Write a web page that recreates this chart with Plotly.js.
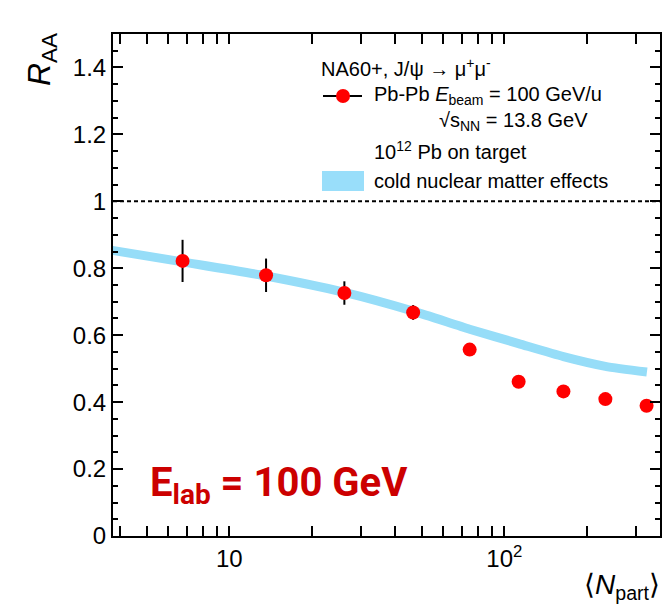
<!DOCTYPE html>
<html>
<head>
<meta charset="utf-8">
<script src="https://cdn.plot.ly/plotly-3.0.1.min.js"></script>
<style>html,body{margin:0;padding:0;background:#fff;}#plot{width:662px;height:609px;}</style>
</head>
<body>
<div id="plot"></div>
<script>
// ---- data ----
const nPart      = [6.76, 13.6, 26.2, 46.6, 74.8, 112.7, 164, 233, 329];
const raa        = [0.822, 0.779, 0.726, 0.668, 0.557, 0.461, 0.432, 0.409, 0.389];
const raaErr     = [0.063, 0.050, 0.035, 0.022, 0.018, 0.010, 0.010, 0.010, 0.010];
const cnmX       = [3.6, 6.76, 13.6, 26.2, 46.6, 74.8, 112.7, 164, 233, 330];
const cnmY       = [0.856, 0.819, 0.777, 0.728, 0.672, 0.618, 0.575, 0.536, 0.507, 0.490];
const refLevel   = 1;
const xMajorVals = [10, 100];
const xMajorText = ['10', '10<sup>2</sup>'];

// all x tick positions (decades + 2..9 multiples); only the decades get a label
const xTickVals = [], xTickText = [];
[1, 10, 100].forEach(d => {
  for (let k = 1; k <= 9; k++) {
    const v = k * d;
    const i = xMajorVals.indexOf(v);
    if (v < 4 || v > 360) continue;
    xTickVals.push(v);
    xTickText.push(i >= 0 ? xMajorText[i] : '');
  }
});

const FONT = 'Liberation Sans, Arial, sans-serif';
const X_RANGE = [0.577, 2.566];
const Y_RANGE = [0, 1.5];

const traces = [
  {
    x: cnmX, y: cnmY, type: 'scatter', mode: 'lines', line: {color: 'rgb(150,221,248)', width: 9, shape: 'spline', smoothing: 0.6},
    hoverinfo: 'skip', showlegend: false
  },
  {
    x: nPart, y: raa, type: 'scatter', mode: 'markers',
    marker: {color: 'rgb(255,0,0)', size: 14},
    error_y: {type: 'data', array: raaErr, visible: true, color: '#000', thickness: 2, width: 0},
    showlegend: false
  }
];

const layout = {
  width: 662, height: 609,
  margin: {l: 113, r: 2, t: 34, b: 73},
  showlegend: false,
  font: {family: FONT, color: '#000'},
  xaxis: {
    type: 'log', range: X_RANGE,
    tickmode: 'array', tickvals: xTickVals, ticktext: xTickText,
    ticks: 'inside', ticklen: 10, tickwidth: 2, tickcolor: '#000',
    showline: true, linecolor: '#000', linewidth: 2, mirror: 'ticks', showgrid: false, zeroline: false,
    tickfont: {size: 24, color: '#000'}
  },
  yaxis: {
    range: Y_RANGE, tick0: 0, dtick: 0.2,
    ticks: 'inside', ticklen: 10, tickwidth: 2, tickcolor: '#000',
    showline: true, linecolor: '#000', linewidth: 2, mirror: 'ticks', showgrid: false, zeroline: false,
    tickfont: {size: 24, color: '#000'},
    minor: {dtick: 0.05, ticks: 'inside', ticklen: 5, tickwidth: 2, tickcolor: '#000', showgrid: false}
  },
  shapes: [
    {type: 'line', xref: 'paper', x0: 0, x1: 1, yref: 'y', y0: refLevel, y1: refLevel,
     line: {color: '#000', width: 2, dash: '4px,3px'}},
    {type: 'line', xref: 'paper', yref: 'paper', x0: (323-113)/547, x1: (362-113)/547,
     y0: (609-73-96)/502, y1: (609-73-96)/502, line: {color: '#000', width: 2}},
    {type: 'circle', xref: 'paper', yref: 'paper', x0: (336-113)/547, x1: (350-113)/547,
     y0: (609-73-103)/502, y1: (609-73-89)/502, fillcolor: 'rgb(255,0,0)', line: {width: 0}},
    {type: 'rect', xref: 'paper', yref: 'paper', x0: (322-113)/547, x1: (364-113)/547,
     y0: (609-73-191)/502, y1: (609-73-171)/502, fillcolor: 'rgb(153,222,250)', line: {width: 0}}
  ],
  annotations: [
    {xref: 'paper', yref: 'paper', x: (319-113)/547, y: (609-73-67)/502, xanchor: 'left', yanchor: 'middle',
     showarrow: false, text: 'NA60+, J/ψ → μ<sup>+</sup>μ<sup>-</sup>', font: {family: FONT, size: 20, color: '#000'}},
    {xref: 'paper', yref: 'paper', x: (372-113)/547, y: (609-73-95)/502, xanchor: 'left', yanchor: 'middle',
     showarrow: false, text: 'Pb-Pb <i>E</i><sub>beam</sub> = 100 GeV/u', font: {family: FONT, size: 20, color: '#000'}},
    {xref: 'paper', yref: 'paper', x: (437-113)/547, y: (609-73-122)/502, xanchor: 'left', yanchor: 'middle',
     showarrow: false, text: '√s<sub>NN</sub> = 13.8 GeV', font: {family: FONT, size: 20, color: '#000'}},
    {xref: 'paper', yref: 'paper', x: (372-113)/547, y: (609-73-150)/502, xanchor: 'left', yanchor: 'middle',
     showarrow: false, text: '10<sup>12</sup> Pb on target', font: {family: FONT, size: 20, color: '#000'}},
    {xref: 'paper', yref: 'paper', x: (372-113)/547, y: (609-73-181)/502, xanchor: 'left', yanchor: 'middle',
     showarrow: false, text: 'cold nuclear matter effects', font: {family: FONT, size: 20, color: '#000'}},
    {xref: 'paper', yref: 'paper', x: (42-113)/547, y: (609-73-60)/502, xanchor: 'center', yanchor: 'middle',
     showarrow: false, textangle: -90, text: '<i>R</i><sub>AA</sub>', font: {family: FONT, size: 32, color: '#000'}},
    {xref: 'paper', yref: 'paper', x: 1.004, y: (609-73-586)/502, xanchor: 'right', yanchor: 'middle',
     showarrow: false, text: '⟨<i>N</i><sub>part</sub>⟩', font: {family: FONT, size: 28, color: '#000'}},
    {xref: 'paper', yref: 'paper', x: (148-113)/547, y: (609-73-485)/502, xanchor: 'left', yanchor: 'middle',
     showarrow: false, text: '<b>E<sub>lab</sub> = 100 GeV</b>', font: {family: 'Roboto, sans-serif', size: 40, color: 'rgb(204,0,0)'}}
  ]
};

Plotly.newPlot('plot', traces, layout, {displayModeBar: false, staticPlot: true});
</script>
</body>
</html>
